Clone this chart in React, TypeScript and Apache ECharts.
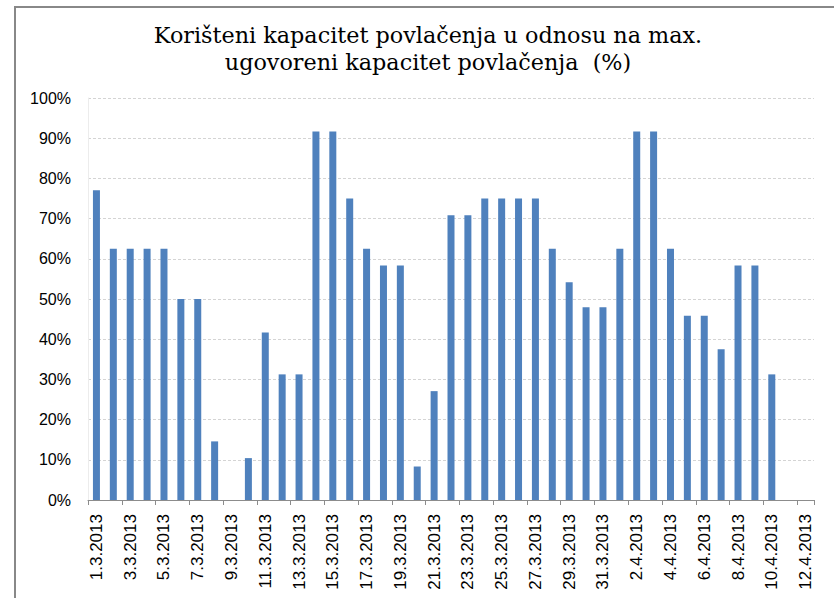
import React, { useEffect, useRef } from "react";
import * as echarts from "echarts";

const titleLines = [
  "Korišteni kapacitet povlačenja u odnosu na max.",
  "ugovoreni kapacitet povlačenja  (%)",
];

const marchDays = [
  "1.3.2013", "2.3.2013", "3.3.2013", "4.3.2013", "5.3.2013", "6.3.2013", "7.3.2013",
  "8.3.2013", "9.3.2013", "10.3.2013", "11.3.2013", "12.3.2013", "13.3.2013", "14.3.2013",
  "15.3.2013", "16.3.2013", "17.3.2013", "18.3.2013", "19.3.2013", "20.3.2013", "21.3.2013",
  "22.3.2013", "23.3.2013", "24.3.2013", "25.3.2013", "26.3.2013", "27.3.2013", "28.3.2013",
  "29.3.2013", "30.3.2013", "31.3.2013",
];
const aprilDays = [
  "1.4.2013", "2.4.2013", "3.4.2013", "4.4.2013", "5.4.2013", "6.4.2013",
  "7.4.2013", "8.4.2013", "9.4.2013", "10.4.2013", "11.4.2013", "12.4.2013",
];
const categories = [...marchDays, ...aprilDays];

const marchValues = [
  77.08, 62.5, 62.5, 62.5, 62.5, 50.0, 50.0, 14.58, 0, 10.42,
  41.67, 31.25, 31.25, 91.67, 91.67, 75.0, 62.5, 58.33, 58.33, 8.33,
  27.08, 70.83, 70.83, 75.0, 75.0, 75.0, 75.0, 62.5, 54.17, 47.92, 47.92,
];
const aprilValues = [
  62.5, 91.67, 91.67, 62.5, 45.83, 45.83, 37.5, 58.33, 58.33, 31.25, 0, 0,
];
const values = [...marchValues, ...aprilValues];

const yTicks = { min: 0, max: 100, interval: 10 };

export default function App() {
  const ref = useRef<HTMLDivElement>(null);
  useEffect(() => {
    document.body.style.margin = "0";
    if (!ref.current) return;
    const chart = echarts.init(ref.current, null, { renderer: "svg" });
    chart.setOption({
      animation: false,
      backgroundColor: "#ffffff",
      title: {
        text: titleLines.join("\n"),
        left: 423,
        textAlign: "center",
        top: 16,
        textStyle: {
          fontFamily: "DejaVu Serif",
          fontSize: 22.3,
          fontWeight: "normal",
          color: "#000000",
          lineHeight: 27,
        },
      },
      graphic: [
        {
          type: "polyline",
          shape: { points: [[15, 598], [15, 7], [834, 7]] },
          style: { stroke: "#888888", lineWidth: 2, fill: "none" },
          silent: true,
        },
      ],
      grid: { left: 88, right: 20, top: 98, bottom: 98 },
      xAxis: {
        type: "category",
        data: categories,
        boundaryGap: true,
        axisLine: { show: true, lineStyle: { color: "#8c8c8c", width: 1 } },
        axisTick: { show: true, interval: 1, length: 5, lineStyle: { color: "#8c8c8c" } },
        axisLabel: {
          interval: 1,
          rotate: 90,
          margin: 14,
          fontFamily: "Liberation Sans",
          fontSize: 17,
          color: "#000000",
        },
        splitLine: { show: false },
      },
      yAxis: {
        type: "value",
        min: yTicks.min,
        max: yTicks.max,
        interval: yTicks.interval,
        axisLine: { show: true, lineStyle: { color: "#ececec" } },
        axisTick: { show: false },
        axisLabel: {
          formatter: "{value}%",
          fontFamily: "Liberation Sans",
          fontSize: 16,
          color: "#000000",
          margin: 17,
        },
        splitLine: {
          show: true,
          lineStyle: { color: "#d4d4d4", type: [3, 2], width: 1 },
        },
      },
      series: [
        {
          type: "bar",
          data: values,
          barWidth: 7,
          itemStyle: { color: "#4F81BD" },
        },
      ],
    });
    return () => chart.dispose();
  }, []);
  return <div ref={ref} style={{ width: 834, height: 598 }} />;
}
